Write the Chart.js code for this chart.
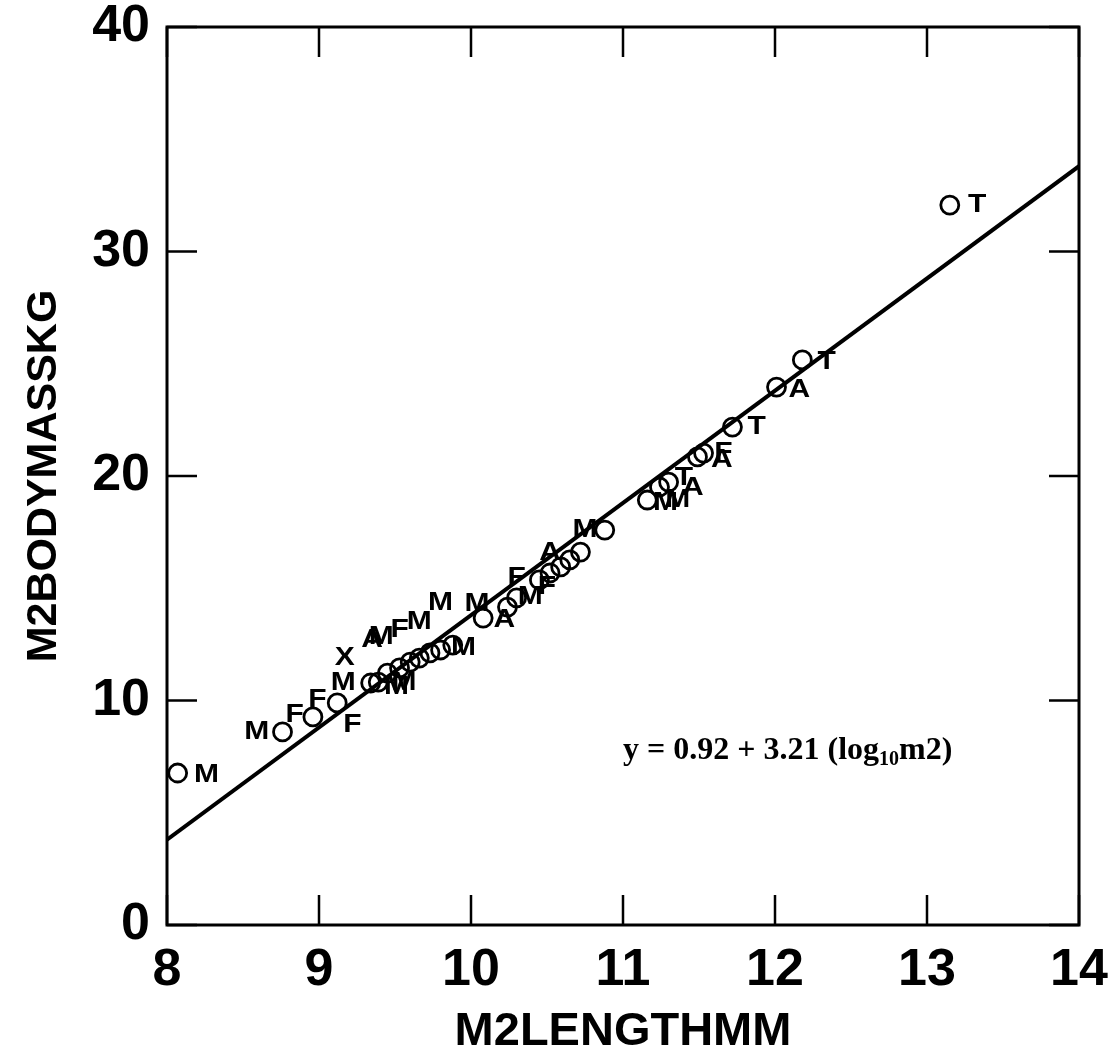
<!DOCTYPE html>
<html>
<head>
<meta charset="utf-8">
<script src="https://cdn.jsdelivr.net/npm/chart.js@4.4.1/dist/chart.umd.min.js"></script>
<style>
html,body{margin:0;padding:0;background:#fff;}
#wrap{width:1116px;height:1064px;position:relative;}
</style>
</head>
<body>
<div id="wrap"><canvas id="c" width="1116" height="1064"></canvas></div>
<script>
// ---- data ----
const xTicks = [8, 9, 10, 11, 12, 13, 14];
const yTicks = [0, 10, 20, 30, 40];

// open circles (M2LENGTHMM, M2BODYMASSKG)
const circleX = [8.07, 8.76, 8.96, 9.12, 9.34, 9.39, 9.45, 9.53, 9.60, 9.66, 9.73, 9.80, 9.88,
                 10.08, 10.24, 10.30, 10.45, 10.52, 10.59, 10.65, 10.72, 10.88,
                 11.16, 11.24, 11.30, 11.49, 11.53, 11.72, 12.01, 12.18, 13.15];
const circleY = [6.77, 8.60, 9.27, 9.89, 10.78, 10.82, 11.22, 11.45, 11.71, 11.89, 12.12, 12.25, 12.47,
                 13.67, 14.16, 14.57, 15.37, 15.68, 15.95, 16.26, 16.61, 17.59,
                 18.93, 19.51, 19.73, 20.85, 21.02, 22.18, 23.96, 25.17, 32.07];

// letter labels (position of each letter)
const labelX = [8.26, 8.59, 8.84, 8.99, 9.22, 9.16, 9.17, 9.35, 9.41, 9.53, 9.66, 9.80,
                9.51, 9.56, 9.95, 10.04, 10.22, 10.39, 10.50, 10.30, 10.52, 10.75,
                11.28, 11.36, 11.40, 11.46, 11.66, 11.65, 11.88, 12.16, 12.34, 13.33];
const labelY = [6.68, 8.60, 9.35, 10.02, 8.91, 10.78, 11.89, 12.69, 12.83, 13.14, 13.50, 14.34,
                10.60, 10.78, 12.34, 14.30, 13.59, 14.61, 15.06, 15.46, 16.57, 17.59,
                18.80, 18.93, 19.91, 19.47, 21.02, 20.71, 22.18, 23.83, 25.08, 32.07];
const labelText = ['M', 'M', 'F', 'F', 'F', 'M', 'X', 'A', 'M', 'F', 'M', 'M',
                   'M', 'M', 'M', 'M', 'A', 'M', 'F', 'F', 'A', 'M',
                   'M', 'M', 'T', 'A', 'F', 'A', 'T', 'A', 'T', 'T'];

// fitted line
const fitX = [8, 14];
const fitY = [3.8, 33.8];

// equation annotation
const eqText = ['y = 0.92 + 3.21 (log', '10', 'm2)'];
const eqPos = [11.0, 7.85];

const xTitle = 'M2LENGTHMM';
const yTitle = 'M2BODYMASSKG';

const circles = circleX.map((x, i) => ({x: x, y: circleY[i]}));
const letters = labelX.map((x, i) => ({x: x, y: labelY[i], t: labelText[i]}));
const fit = fitX.map((x, i) => ({x: x, y: fitY[i]}));

const SANS = '"Liberation Sans", Arial, Helvetica, sans-serif';
const SERIF = '"Liberation Serif", "Times New Roman", serif';

const decor = {
  id: 'decor',
  afterDatasetsDraw(chart) {
    const ctx = chart.ctx;
    const a = chart.chartArea;
    const xs = chart.scales.x, ys = chart.scales.y;
    ctx.save();
    // letters (slightly widened, like the original print)
    ctx.fillStyle = '#000';
    ctx.font = 'bold 25px ' + SANS;
    ctx.textAlign = 'center';
    ctx.textBaseline = 'middle';
    letters.forEach(p => {
      const px = xs.getPixelForValue(p.x), py = ys.getPixelForValue(p.y);
      ctx.save();
      ctx.translate(px, py);
      ctx.scale(1.2, 1);
      ctx.fillText(p.t, 0, 0);
      ctx.restore();
    });
    // equation
    let ex = xs.getPixelForValue(eqPos[0]);
    const ey = ys.getPixelForValue(eqPos[1]);
    ctx.textAlign = 'left';
    ctx.textBaseline = 'alphabetic';
    ctx.font = 'bold 32px ' + SERIF;
    ctx.fillText(eqText[0], ex, ey + 10);
    ex += ctx.measureText(eqText[0]).width;
    ctx.font = 'bold 20px ' + SERIF;
    ctx.fillText(eqText[1], ex, ey + 16);
    ex += ctx.measureText(eqText[1]).width;
    ctx.font = 'bold 32px ' + SERIF;
    ctx.fillText(eqText[2], ex, ey + 10);
    // frame
    ctx.strokeStyle = '#000';
    ctx.lineWidth = 3;
    ctx.strokeRect(a.left, a.top, a.right - a.left, a.bottom - a.top);
    // inward ticks
    const TL = 30;
    ctx.lineWidth = 2.5;
    ctx.beginPath();
    xTicks.forEach(v => {
      const px = xs.getPixelForValue(v);
      ctx.moveTo(px, a.bottom); ctx.lineTo(px, a.bottom - TL);
      ctx.moveTo(px, a.top); ctx.lineTo(px, a.top + TL);
    });
    yTicks.forEach(v => {
      const py = ys.getPixelForValue(v);
      ctx.moveTo(a.left, py); ctx.lineTo(a.left + TL, py);
      ctx.moveTo(a.right, py); ctx.lineTo(a.right - TL, py);
    });
    ctx.stroke();
    ctx.restore();
  }
};

new Chart(document.getElementById('c'), {
  type: 'scatter',
  data: {
    datasets: [
      {
        type: 'line',
        data: fit,
        borderColor: '#000',
        borderWidth: 4,
        pointRadius: 0,
        fill: false,
        tension: 0
      },
      {
        data: circles,
        pointStyle: 'circle',
        pointRadius: 9,
        borderColor: '#000',
        borderWidth: 2.8,
        backgroundColor: 'rgba(0,0,0,0)'
      }
    ]
  },
  options: {
    responsive: false,
    animation: false,
    devicePixelRatio: 1,
    layout: { padding: { left: 0, top: 27, right: 37, bottom: 0 } },
    plugins: { legend: { display: false }, tooltip: { enabled: false } },
    scales: {
      x: {
        type: 'linear',
        min: 8, max: 14,
        afterFit(s) { s.height = 139; s.paddingLeft = 0; s.paddingRight = 0; },
        afterBuildTicks(s) { s.ticks = xTicks.map(v => ({value: v})); },
        grid: { display: false, drawTicks: false },
        border: { display: false },
        ticks: { color: '#000', padding: 14, font: { family: SANS, size: 52, weight: 'bold' } },
        title: { display: true, text: xTitle, color: '#000', padding: { top: 0, bottom: 4 },
                 font: { family: SANS, size: 47, weight: 'bold' } }
      },
      y: {
        type: 'linear',
        min: 0, max: 40,
        afterFit(s) { s.width = 167; s.paddingTop = 0; s.paddingBottom = 0; },
        afterBuildTicks(s) { s.ticks = yTicks.map(v => ({value: v})); },
        grid: { display: false, drawTicks: false },
        border: { display: false },
        ticks: { color: '#000', padding: 17, font: { family: SANS, size: 52, weight: 'bold' } },
        title: { display: true, text: yTitle, color: '#000', padding: { top: 18, bottom: 0 },
                 font: { family: SANS, size: 43, weight: 'bold' } }
      }
    }
  },
  plugins: [decor]
});
</script>
</body>
</html>
